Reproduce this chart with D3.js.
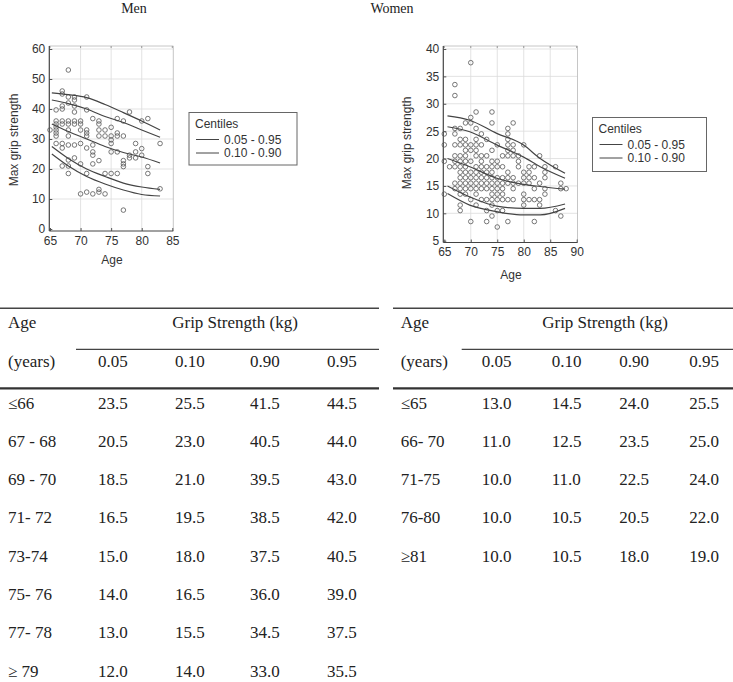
<!DOCTYPE html>
<html><head><meta charset="utf-8">
<script src="https://cdn.jsdelivr.net/npm/d3@7/dist/d3.min.js"></script>
<style>body{margin:0;background:#fff}svg{display:block}</style>
</head><body>
<svg id="c" width="733" height="682"></svg>
<script>
// ---------- DATA ----------
const menPoints = [
 [65,33],[66,39.7],[66,36],[66,35],[66,34],[66,33],[66,32],[66,31],[66,28.5],
 [67,46],[67,45],[67,41],[67,40],[67,36],[67,35],[67,28.5],[67,27],[67,21],
 [68,53],[68,44],[68,42],[68,36],[68,35],[68,33],[68,31],[68,28],[68,23],[68,21],[68,18.5],
 [69,44],[69,43],[69,41],[69,39],[69,36],[69,35],[69,28],[69,23.7],
 [70,36],[70,35],[70,33],[70,28.5],[70,21.7],[70,11.7],
 [71,44],[71,39.7],[71,33],[71,32],[71,31],[71,27],[71,18.5],[71,12.3],
 [72,36.8],[72,28],[72,25.7],[72,24.6],[72,21.7],[72,11.7],
 [73,36],[73,35],[73,33],[73,31],[73,22.8],[73,13.2],[73,12.3],
 [74,33],[74,31],[74,18.5],[74,11.7],
 [75,33.9],[75,31],[75,29.7],[75,28.5],[75,25.7],[75,18.5],
 [76,36.8],[76,32],[76,31],[76,25.7],[76,18.5],
 [77,36],[77,31],[77,22.8],[77,21.7],[77,20.8],[77,6.3],
 [78,39],[78,24.6],[78,23.7],
 [79,28.5],[79,25.7],[79,23.7],
 [80,36],[80,26.8],[80,24.6],
 [81,36.8],[81,20.8],[81,18.5],
 [83,28.5],[83,13.4]
];
const womenAgeCols = [65,66,67,68,69,70,71,72,73,74,75,76,77,78,79,80,81,82,83,84,86,87,88];
const womenColValues = [
 [24.5,22.5,19.5,13.5],
 [18.5],
 [33.5,31.5,25.5,24.5,22.5,20.5,19.5,18.5,15.5,14.5],
 [25.5,23.5,22.5,20.5,19.5,18.5,17.5,16.5,15.5,14.5,13.5,11.5,10.5],
 [26.5,23.5,22.5,21.5,20.5,19.5,18.5,17.5,16.5,15.5,14.5,13.5],
 [37.5,27.5,26.5,22.5,21.5,19.5,17.5,16.5,15.5,14.5,12.5,8.5],
 [28.5,25.5,23.5,22.5,21.5,20.5,18.5,17.5,16.5,15.5,14.5,13.5,11.5],
 [24.5,22.5,20.5,19.5,18.5,17.5,16.5,15.5,14.5,12.5],
 [23.5,20.5,18.5,17.5,16.5,15.5,14.5,12.5,10.5,8.5],
 [28.5,26.5,21.5,19.5,18.5,17.5,16.5,15.5,14.5,13.5,12.5,11.5,9.5],
 [22.5,19.5,18.5,16.5,15.5,14.5,13.5,12.5,10.5,7.5],
 [20.5,18.5,16.5,15.5,14.5,13.5,12.5,10.5],
 [25.5,24.5,23.5,22.5,21.5,20.5,17.5,16.5,15.5,12.5,8.5],
 [26.5,22.5,21.5,20.5,16.5,15.5,14.5,12.5],
 [20.5,19.5,18.5,15.5],
 [22.5,17.5,16.5,15.5,13.5,12.5,11.5],
 [18.5,17.5,16.5,15.5,12.5],
 [18.5,16.5,14.5,12.5,8.5],
 [20.5,15.5,12.5,11.5],
 [18.5,17.5,16.5,14.5,13.5],
 [18.5,10.5],
 [15.5,14.5,9.5],
 [14.5]
];
const menCurveAges = [65.3,68,71,74,77,80,83];
const menC95 = [45.4,44.8,43.8,41.5,38.8,36,33];
const menC90 = [43,41.8,40,37.5,35.5,33,30.6];
const menC50 = [35,32.5,30,27.5,25.5,24,22];
const menC10 = [27.5,23.5,20,17.5,15.3,14,13.2];
const menC05 = [25,21,17.5,15,13,11.5,11];
const womenCurveAges = [65.6,69.8,74.9,79.9,83.1,87.8];
const womenC95 = [27.8,27,24.6,22.5,20,17.3];
const womenC90 = [25.8,24.9,22.5,20.3,18.5,16.4];
const womenC50 = [20,18.5,16.4,15.3,14.9,14.4];
const womenC10 = [15,13,11.3,10.9,10.9,11.7];
const womenC05 = [13.6,11.5,10.3,9.7,9.7,10.9];
const menXTicks = [65,70,75,80,85];
const menYTicks = [0,10,20,30,40,50,60];
const womenXTicks = [65,70,75,80,85,90];
const womenYTicks = [5,10,15,20,25,30,35,40];
const legendLabels = ["0.05 - 0.95","0.10 - 0.90"];
const tableCols = ["0.05","0.10","0.90","0.95"];
const menAgeGroups = ["\u226466","67 - 68","69 - 70","71- 72","73-74","75- 76","77- 78","\u2265 79"];
const menTable = [
 ["23.5","25.5","41.5","44.5"],["20.5","23.0","40.5","44.0"],["18.5","21.0","39.5","43.0"],
 ["16.5","19.5","38.5","42.0"],["15.0","18.0","37.5","40.5"],["14.0","16.5","36.0","39.0"],
 ["13.0","15.5","34.5","37.5"],["12.0","14.0","33.0","35.5"]];
const womenAgeGroups = ["\u226465","66- 70","71-75","76-80","\u226581"];
const womenTable = [
 ["13.0","14.5","24.0","25.5"],["11.0","12.5","23.5","25.0"],["10.0","11.0","22.5","24.0"],
 ["10.0","10.5","20.5","22.0"],["10.0","10.5","18.0","19.0"]];

// ---------- DRAW ----------
const svg = d3.select("#c");
const sans = "Liberation Sans, Arial, sans-serif";
const serif = "Liberation Serif, Times New Roman, serif";

function panel(o){
  const g = svg.append("g");
  const x = d3.scaleLinear().domain(o.xd).range(o.xr);
  const y = d3.scaleLinear().domain(o.yd).range(o.yr);
  const [fx0,fx1,fy0,fy1] = o.frame;
  g.selectAll(".gx").data(o.xt.slice(1,-1)).join("line")
    .attr("x1",d=>x(d)).attr("x2",d=>x(d)).attr("y1",fy0).attr("y2",fy1)
    .attr("stroke","#dcdcdc").attr("stroke-width",0.8);
  g.selectAll(".gy").data(o.yt.slice(1)).join("line")
    .attr("x1",fx0).attr("x2",fx1).attr("y1",d=>y(d)).attr("y2",d=>y(d))
    .attr("stroke","#dcdcdc").attr("stroke-width",0.8);
  g.append("path").attr("d",`M${fx0},${fy0}H${fx1}V${fy1}`).attr("fill","none").attr("stroke","#b8b8b8").attr("stroke-width",0.8);
  g.selectAll(".tt").data(o.xt).join("line").attr("x1",d=>x(d)).attr("x2",d=>x(d)).attr("y1",fy0).attr("y2",fy0+2).attr("stroke","#999");
  const ax = d3.axisBottom(x).tickValues(o.xt).tickSize(3).tickSizeOuter(0);
  const ay = d3.axisLeft(y).tickValues(o.yt).tickSize(3).tickSizeOuter(0);
  const gx = g.append("g").attr("transform",`translate(0,${fy1})`).call(ax);
  const gy = g.append("g").attr("transform",`translate(${fx0},0)`).call(ay);
  [gx,gy].forEach(a=>{
    a.select(".domain").remove();
    a.selectAll("line").attr("stroke","#555");
    a.selectAll("text").attr("font-family",sans).attr("font-size",12).attr("fill","#333");
  });
  gx.selectAll(".tick line").attr("y2",-3);
  gy.selectAll(".tick line").attr("x2",3);
  gx.selectAll("text").attr("dy","0.71em").attr("y",5);
  gy.selectAll("text").attr("x",-4);
  g.append("line").attr("x1",fx0).attr("x2",fx1).attr("y1",fy1).attr("y2",fy1).attr("stroke","#444").attr("stroke-width",1.2);
  g.append("line").attr("x1",fx0).attr("x2",fx0).attr("y1",fy0).attr("y2",fy1).attr("stroke","#444").attr("stroke-width",1.2);
  g.selectAll(".pt").data(o.points).join("circle")
    .attr("cx",d=>x(d[0])).attr("cy",d=>y(d[1])).attr("r",2.3)
    .attr("fill","none").attr("stroke","#555").attr("stroke-width",0.8);
  const line = d3.line().x(d=>x(d[0])).y(d=>y(d[1])).curve(d3.curveMonotoneX);
  o.curves.forEach(c=>{
    g.append("path").attr("d",line(o.cAges.map((a,i)=>[a,c[i]])))
      .attr("fill","none").attr("stroke","#444").attr("stroke-width",1.2);
  });
  g.append("text").attr("x",o.xl[0]).attr("y",o.xl[1]).attr("text-anchor","middle")
    .attr("font-family",sans).attr("font-size",12).attr("fill","#333").text("Age");
  g.append("text").attr("transform",`translate(${o.yl[0]},${o.yl[1]}) rotate(-90)`).attr("text-anchor","middle")
    .attr("dominant-baseline","central").attr("font-family",sans).attr("font-size",12).attr("fill","#333").text("Max grip strength");
  g.append("text").attr("x",o.title[0]).attr("y",o.title[1]).attr("text-anchor","middle")
    .attr("font-family",serif).attr("font-size",14).attr("fill","#222").text(o.titleText);
  const L = o.legend;
  g.append("rect").attr("x",L[0]).attr("y",L[1]).attr("width",L[2]).attr("height",L[3])
    .attr("fill","#fff").attr("stroke","#666").attr("stroke-width",1);
  g.append("text").attr("x",L[0]+6).attr("y",L[1]+15).attr("font-family",sans).attr("font-size",12).attr("fill","#333").text("Centiles");
  legendLabels.forEach((t,i)=>{
    const yy = L[1]+27+i*13.5;
    g.append("line").attr("x1",L[0]+7).attr("x2",L[0]+30).attr("y1",yy).attr("y2",yy).attr("stroke","#444").attr("stroke-width",1);
    g.append("text").attr("x",L[0]+35).attr("y",yy).attr("dominant-baseline","central")
      .attr("font-family",sans).attr("font-size",12).attr("fill","#333").text(t);
  });
}

const womenPoints = [];
womenAgeCols.forEach((a,i)=>womenColValues[i].forEach(v=>womenPoints.push([a,v])));

panel({xd:[65,85],xr:[50,172.3],yd:[0,60],yr:[229,49],frame:[49.3,173.3,46,231],
  xt:menXTicks,yt:menYTicks,points:menPoints,cAges:menCurveAges,
  curves:[menC95,menC90,menC50,menC10,menC05],xl:[112,264],yl:[14,140],
  title:[134,13],titleText:"Men",legend:[189,112.5,108,52.5]});
panel({xd:[65,90],xr:[444.3,576.7],yd:[5,40],yr:[240.7,49],frame:[443.3,577.5,46,242.5],
  xt:womenXTicks,yt:womenYTicks,points:womenPoints,cAges:womenCurveAges,
  curves:[womenC95,womenC90,womenC50,womenC10,womenC05],xl:[511,279],yl:[407,143],
  title:[392,13],titleText:"Women",legend:[592.5,117.5,114,54]});

function table(o){
  const g = svg.append("g").attr("font-family",serif).attr("font-size",17).attr("fill","#222");
  g.append("line").attr("x1",o.x0).attr("x2",o.x1).attr("y1",308.3).attr("y2",308.3).attr("stroke","#444").attr("stroke-width",1.6);
  g.append("line").attr("x1",o.sub).attr("x2",o.x1).attr("y1",349.3).attr("y2",349.3).attr("stroke","#444").attr("stroke-width",1.2);
  g.append("line").attr("x1",o.x0).attr("x2",o.x1).attr("y1",388.3).attr("y2",388.3).attr("stroke","#333").attr("stroke-width",2.2);
  g.append("text").attr("x",o.lab).attr("y",322).attr("dominant-baseline","central").text("Age");
  g.append("text").attr("x",o.gc).attr("y",322).attr("dominant-baseline","central").attr("text-anchor","middle").text("Grip Strength (kg)");
  g.append("text").attr("x",o.lab).attr("y",361).attr("dominant-baseline","central").text("(years)");
  tableCols.forEach((c,i)=>g.append("text").attr("x",o.cols[i]).attr("y",361).attr("dominant-baseline","central").text(c));
  o.groups.forEach((gr,r)=>{
    const yy = 403 + r*38.3;
    g.append("text").attr("x",o.lab).attr("y",yy).attr("dominant-baseline","central").text(gr);
    o.vals[r].forEach((v,i)=>g.append("text").attr("x",o.cols[i]).attr("y",yy).attr("dominant-baseline","central").text(v));
  });
}
table({x0:0,x1:379,sub:76,lab:8,gc:235,cols:[98,175,250,327],groups:menAgeGroups,vals:menTable});
table({x0:393,x1:733,sub:461.7,lab:400.7,gc:605,cols:[481.7,551.7,619.3,689.3],groups:womenAgeGroups,vals:womenTable});
</script>
</body></html>
